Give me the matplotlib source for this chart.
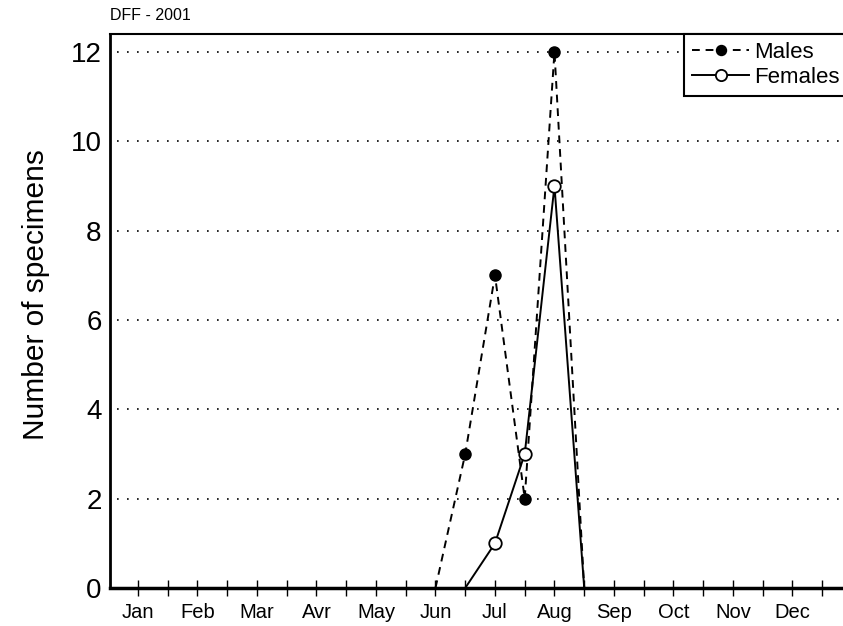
import matplotlib
matplotlib.use("Agg")
import matplotlib.pyplot as plt
import numpy as np

months = ["Jan", "Feb", "Mar", "Avr", "May", "Jun", "Jul", "Aug", "Sep", "Oct", "Nov", "Dec"]
# positions in months (Jan = 0), half-month steps
male_x = [5.0, 5.5, 6.0, 6.5, 7.0, 7.5]
male_y = [0, 3, 7, 2, 12, 0]
female_x = [5.5, 6.0, 6.5, 7.0, 7.5]
female_y = [0, 1, 3, 9, 0]
title = "DFF - 2001"

plt.rcParams['font.family'] = ['Liberation Sans', 'DejaVu Sans']

fig = plt.figure(figsize=(8.43, 6.26), dpi=100)
ax = fig.add_axes([110/843, 38/626, 1.005 - 110/843, (588-34)/626])

for yv in range(2, 13, 2):
    ax.plot([-0.36, 12.5], [yv, yv], color='black', linestyle=(0, (1, 5)), linewidth=1.2, zorder=1)

mk_m = [i for i, v in enumerate(male_y) if v > 0]
mk_f = [i for i, v in enumerate(female_y) if v > 0]
ax.plot(male_x, male_y, color='black', linestyle=(0, (4, 3)), linewidth=1.4,
        marker='o', markersize=8, markerfacecolor='black', markeredgecolor='black',
        markevery=mk_m, label='Males', zorder=3, clip_on=False)
ax.plot(female_x, female_y, color='black', linestyle='-', linewidth=1.4,
        marker='o', markersize=9, markerfacecolor='white', markeredgecolor='black',
        markeredgewidth=1.3, markevery=mk_f, label='Females', zorder=4, clip_on=False)

ax.set_xlim(-0.47, 11.92)
ax.set_ylim(0, 12.4)
ax.set_xticks(np.arange(len(months)))
ax.set_xticklabels(months, fontsize=14.5)
ax.set_xticks(np.arange(len(months)) + 0.5, minor=True)
ax.tick_params(axis='x', which='both', direction='inout', length=12, width=1.0, pad=5)
ax.set_yticks(range(0, 13, 2))
ax.tick_params(axis='y', length=0, labelsize=20, pad=6)
ax.spines['right'].set_visible(False)
ax.spines['left'].set_linewidth(2)
ax.spines['bottom'].set_linewidth(2.5)
ax.spines['top'].set_linewidth(1.5)
ax.set_ylabel("Number of specimens", fontsize=21.5)
ax.yaxis.set_label_coords(-0.082, 0.53)
ax.set_title(title, loc='left', fontsize=11.5, pad=10)

leg = ax.legend(loc='upper right', fontsize=16, frameon=True, fancybox=False,
                edgecolor='black', framealpha=1, borderaxespad=0, handlelength=2.6,
                handletextpad=0.2, borderpad=0.35, labelspacing=0.2, markerscale=0.9)
leg.get_frame().set_linewidth(1.5)

fig.savefig("out.png", dpi=100)
